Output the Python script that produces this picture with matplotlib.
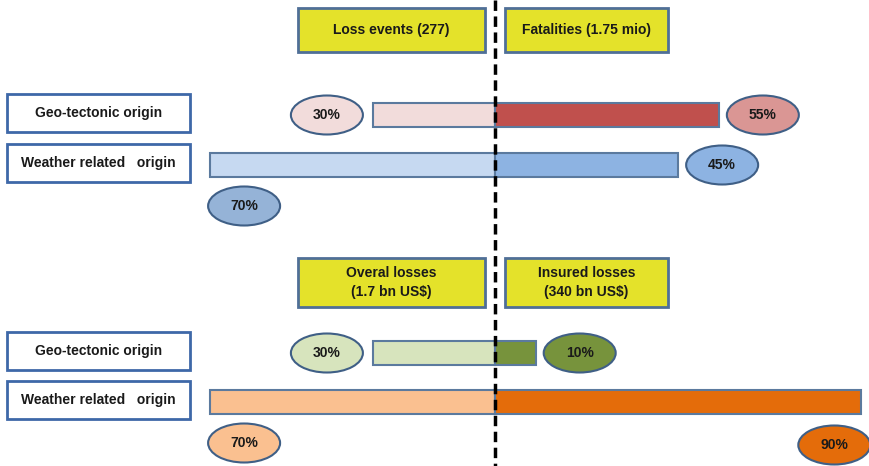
import matplotlib
matplotlib.use("Agg")
import matplotlib.pyplot as plt
from matplotlib.patches import Rectangle, Ellipse

plt.rcParams["font.family"] = ["Liberation Sans Narrow", "Liberation Sans", "DejaVu Sans"]

# data (percent shares)
rows = ["Geo-tectonic origin", "Weather related   origin"]
top_headers = ["Loss events (277)", "Fatalities (1.75 mio)"]
top_left = [30, 70]
top_right = [55, 45]
bottom_headers = ["Overal losses\n(1.7 bn US$)", "Insured losses\n(340 bn US$)"]
bottom_left = [30, 70]
bottom_right = [10, 90]

top_left_colors = ["#F2DCDB", "#C6D9F1"]
top_right_colors = ["#C0504D", "#8DB3E2"]
top_left_bubbles = ["#F2DCDB", "#95B3D7"]
top_right_bubbles = ["#DA9694", "#8DB3E2"]
bottom_left_colors = ["#D7E4BD", "#FAC090"]
bottom_right_colors = ["#77933C", "#E46C0A"]

YELLOW = "#E4E22A"
BOX_EDGE = "#4F6F97"
BAR_EDGE = "#5B7A9E"
ELL_EDGE = "#3F5F86"
TEXT = "#1A1A1A"

W, H = 869, 466
CENTER = 495
PX = 4.07  # pixels per percent


def dx(px):
    return (px - CENTER) / PX


fig = plt.figure(figsize=(W / 100, H / 100), dpi=100)
ax = fig.add_axes([0, 0, 1, 1])
ax.set_xlim(dx(0), dx(W))
ax.set_ylim(H, 0)
ax.axis("off")


def box(x0, x1, y0, y1, text, face, edge, lw=2.0):
    ax.add_patch(Rectangle((dx(x0), y0), (x1 - x0) / PX, y1 - y0,
                           facecolor=face, edgecolor=edge, lw=lw, zorder=2))
    ax.text(dx((x0 + x1) / 2), (y0 + y1) / 2, text, ha="center", va="center",
            fontsize=10, fontweight="bold", color=TEXT, zorder=3,
            linespacing=1.4)


def bubble(x, y, text, face):
    ax.add_patch(Ellipse((x, y), 72 / PX, 39, facecolor=face,
                         edgecolor=ELL_EDGE, lw=1.5, zorder=4))
    ax.text(x, y, text, ha="center", va="center", fontsize=10,
            fontweight="bold", color=TEXT, zorder=5)


def panel(y_head, y_rows, left, right, lcols, rcols, lbub, rbub, headers):
    h0, h1 = y_head
    box(298, 485, h0, h1, headers[0], YELLOW, BOX_EDGE, 2.0)
    box(505, 668, h0, h1, headers[1], YELLOW, BOX_EDGE, 2.0)
    for i, (y, name) in enumerate(zip(y_rows, rows)):
        box(7, 190, y - 19, y + 19, name, "white", "#3E68A8", 2.0)
        yb = y + 2
        ax.barh(yb, -left[i], height=24, color=lcols[i], edgecolor=BAR_EDGE,
                lw=1.5, zorder=2)
        ax.barh(yb, right[i], height=24, color=rcols[i], edgecolor=BAR_EDGE,
                lw=1.5, zorder=2)
        # left bubble: beside short bars, below long ones
        if left[i] < 50:
            bubble(-left[i] - 46 / PX, yb, f"{left[i]}%", lbub[i])
        else:
            bubble(-left[i] + 34 / PX, yb + 41, f"{left[i]}%", lbub[i])
        # right bubble
        if right[i] < 60:
            bubble(right[i] + 44 / PX, yb, f"{right[i]}%", rbub[i])
        else:
            bubble(right[i] - 27 / PX, yb + 43, f"{right[i]}%", rbub[i])


panel((8, 52), (113, 163), top_left, top_right, top_left_colors,
      top_right_colors, top_left_bubbles, top_right_bubbles, top_headers)
panel((258, 307), (351, 400), bottom_left, bottom_right, bottom_left_colors,
      bottom_right_colors, bottom_left_colors, bottom_right_colors,
      bottom_headers)

ax.plot([0, 0], [0, H], color="black", lw=2.5, ls=(0, (3, 1.6)), zorder=6)

fig.savefig("out.png", dpi=100)
